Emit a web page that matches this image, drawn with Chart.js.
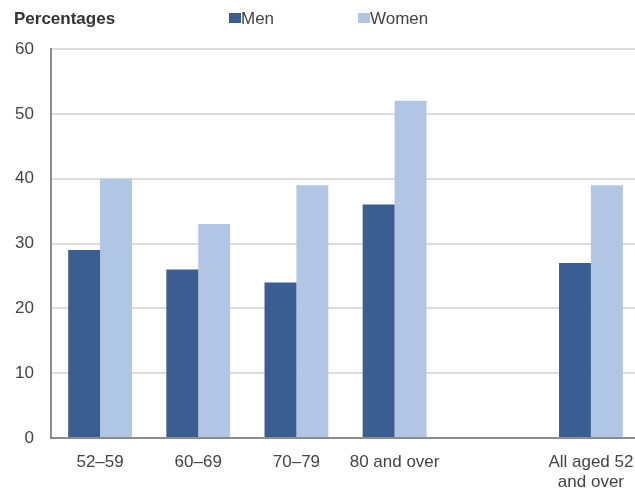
<!DOCTYPE html>
<html>
<head>
<meta charset="utf-8">
<script src="https://cdn.jsdelivr.net/npm/chart.js@4/dist/chart.umd.min.js"></script>
<style>
  html, body { margin: 0; padding: 0; background: #fff; overflow: hidden; width: 635px; height: 489px; }
  #wrap { position: relative; width: 640px; height: 489px; }
  #chart { position: absolute; left: 0; top: 0; }
  .hdr { position: absolute; font-family: "Liberation Sans", Arial, sans-serif; font-size: 17px; color: #444; line-height: 1; white-space: nowrap; }
  .title { font-weight: bold; color: #333; }
  .sw { position: absolute; width: 12px; height: 10px; }
</style>
</head>
<body>
<div id="wrap">
  <canvas id="chart" width="640" height="489"></canvas>
  <div class="hdr title" style="left:14px; top:10px;">Percentages</div>
  <div class="sw" style="left:229px; top:13px; background:#3a5d92;"></div>
  <div class="hdr" style="left:241px; top:10px;">Men</div>
  <div class="sw" style="left:358px; top:13px; background:#b0c6e4;"></div>
  <div class="hdr" style="left:370px; top:10px;">Women</div>
</div>
<script>
// Age groups; the blank slot separates the age bands from the overall figure
const categories = ['52–59', '60–69', '70–79', '80 and over', '', ['All aged 52', 'and over']];
const menValues = [29, 26, 24, 36, null, 27];
const womenValues = [40, 33, 39, 52, null, 39];
const yTicks = [0, 10, 20, 30, 40, 50, 60];

const FONT = '"Liberation Sans", Arial, sans-serif';

new Chart(document.getElementById('chart'), {
  type: 'bar',
  data: {
    labels: categories,
    datasets: [
      { label: 'Men', data: menValues, backgroundColor: '#3a5d92', categoryPercentage: 0.65, barPercentage: 1.0 },
      { label: 'Women', data: womenValues, backgroundColor: '#b0c6e4', categoryPercentage: 0.65, barPercentage: 1.0 }
    ]
  },
  options: {
    responsive: false,
    animation: false,
    layout: { padding: { top: 49, right: 0, left: 0, bottom: 0 } },
    plugins: { legend: { display: false }, tooltip: { enabled: false } },
    scales: {
      x: {
        grid: { display: false, drawTicks: false },
        border: { display: true, color: '#8c8c8c', width: 2 },
        ticks: { color: '#444', font: { family: FONT, size: 17 }, padding: 14, maxRotation: 0, autoSkip: false },
        afterFit: (s) => { s.height = 51; s.paddingLeft = 0; s.paddingRight = 0; }
      },
      y: {
        min: 0, max: 60,
        afterBuildTicks: (s) => { s.ticks = yTicks.map(v => ({ value: v })); },
        grid: { color: '#dcdcdc', lineWidth: 2, drawTicks: false },
        border: { display: true, color: '#8c8c8c', width: 2 },
        ticks: { color: '#444', font: { family: FONT, size: 17 }, padding: 17 },
        afterFit: (s) => { s.width = 51; s.paddingTop = 0; s.paddingBottom = 0; }
      }
    }
  }
});
</script>
</body>
</html>
